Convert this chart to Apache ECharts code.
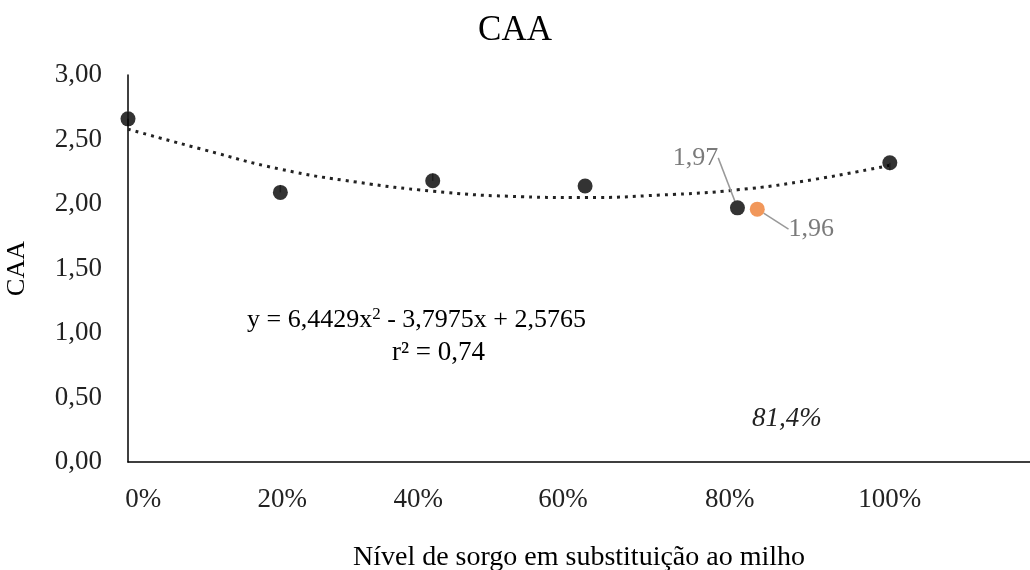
<!DOCTYPE html>
<html>
<head>
<meta charset="utf-8">
<script src="https://cdn.jsdelivr.net/npm/echarts@6/dist/echarts.min.js"></script>
<style>
  html, body { margin: 0; padding: 0; background: #fff; }
  #chart { width: 1030px; height: 570px; }
</style>
</head>
<body>
<div id="chart"></div>
<script>
// nível de sorgo (fração) e CAA observada
const levels = [0, 0.2, 0.4, 0.6, 0.8, 1.0]
const caa = [2.66, 2.09, 2.18, 2.14, 1.97, 2.32]

// ponto ótimo (81,4%)
const optimum = [[0.826, 1.96]]

// linha de tendência
const trendX = [0, 0.1, 0.2, 0.3, 0.4, 0.5, 0.6, 0.7, 0.8, 0.9, 1.0]
const trendY = [2.58, 2.42, 2.27, 2.17, 2.10, 2.06, 2.05, 2.07, 2.11, 2.19, 2.30]

// rótulos do eixo x
const xTickValues = [0.02, 0.2025, 0.381, 0.571, 0.79, 1.0]
const xTickLabels = ['0%', '20%', '40%', '60%', '80%', '100%']

const font = 'Liberation Serif, Times New Roman, serif'

const chart = echarts.init(document.getElementById('chart'))

chart.setOption({
  animation: false,
  title: {
    text: 'CAA',
    left: 'center',
    top: 8,
    textStyle: { fontFamily: font, fontSize: 35, fontWeight: 'normal', color: '#000' }
  },
  grid: {
    left: 128,
    right: 0,
    top: 75,
    bottom: 108,
    outerBoundsMode: 'none'
  },
  xAxis: {
    type: 'value',
    min: 0,
    max: 1.184,
    name: 'Nível de sorgo em substituição ao milho',
    nameLocation: 'middle',
    nameGap: 82,
    nameTextStyle: { fontFamily: font, fontSize: 28, color: '#000' },
    splitLine: { show: false },
    axisTick: { show: false },
    axisLine: { show: true, lineStyle: { color: '#000', width: 1.5 } },
    axisLabel: {
      customValues: xTickValues,
      margin: 24,
      fontFamily: font,
      fontSize: 27,
      color: '#222',
      formatter: v => {
        const i = xTickValues.indexOf(v)
        return i >= 0 ? xTickLabels[i] : ''
      }
    }
  },
  yAxis: {
    type: 'value',
    min: 0,
    max: 3,
    interval: 0.5,
    name: 'CAA',
    nameLocation: 'middle',
    nameGap: 98,
    nameTextStyle: { fontFamily: font, fontSize: 26, color: '#000' },
    splitLine: { show: false },
    axisTick: { show: false },
    axisLine: { show: true, lineStyle: { color: '#000', width: 1.5 } },
    axisLabel: {
      margin: 26,
      fontFamily: font,
      fontSize: 27,
      color: '#222',
      formatter: v => v.toFixed(2).replace('.', ',')
    }
  },
  series: [
    {
      // tendência polinomial
      type: 'line',
      data: trendX.map((x, i) => [x, trendY[i]]),
      smooth: true,
      symbol: 'none',
      lineStyle: { color: '#222', width: 3, type: [3, 5] },
      z: 1
    },
    {
      type: 'scatter',
      data: levels.map((x, i) => [x, caa[i]]),
      symbolSize: 15,
      itemStyle: { color: '#000' },
      label: {
        show: true,
        position: 'inside',
        fontFamily: font,
        fontSize: 26,
        color: '#595959',
        formatter: p => p.dataIndex === 4 ? p.value[1].toFixed(2).replace('.', ',') : ''
      },
      labelLayout: p => p.dataIndex === 4 ? { dx: -42, dy: -50 } : {},
      labelLine: { show: true, lineStyle: { color: '#999', width: 1.5 } },
      z: 3
    },
    {
      type: 'scatter',
      data: optimum,
      symbolSize: 15,
      itemStyle: { color: '#ED7D31' },
      label: {
        show: true,
        position: 'inside',
        fontFamily: font,
        fontSize: 26,
        color: '#595959',
        formatter: p => p.value[1].toFixed(2).replace('.', ',')
      },
      labelLayout: { dx: 54, dy: 20 },
      labelLine: { show: true, lineStyle: { color: '#999', width: 1.5 } },
      z: 3
    }
  ],
  graphic: [
    {
      type: 'text',
      left: 247,
      top: 306,
      style: {
        text: '{a|y = 6,4429x}{s|2}{a| - 3,7975x + 2,5765}',
        rich: {
          a: { fontFamily: font, fontSize: 26, fill: '#000' },
          s: { fontFamily: font, fontSize: 17, fill: '#000', verticalAlign: 'top', padding: [0, 0, 12, 0] }
        }
      }
    },
    {
      type: 'text',
      left: 392,
      top: 339,
      style: { text: 'r² = 0,74', fontFamily: font, fontSize: 27, fill: '#000' }
    },
    {
      type: 'text',
      left: 752,
      top: 405,
      style: { text: '81,4%', fontFamily: font, fontSize: 27, fontStyle: 'italic', fill: '#222' }
    }
  ]
})
</script>
</body>
</html>
